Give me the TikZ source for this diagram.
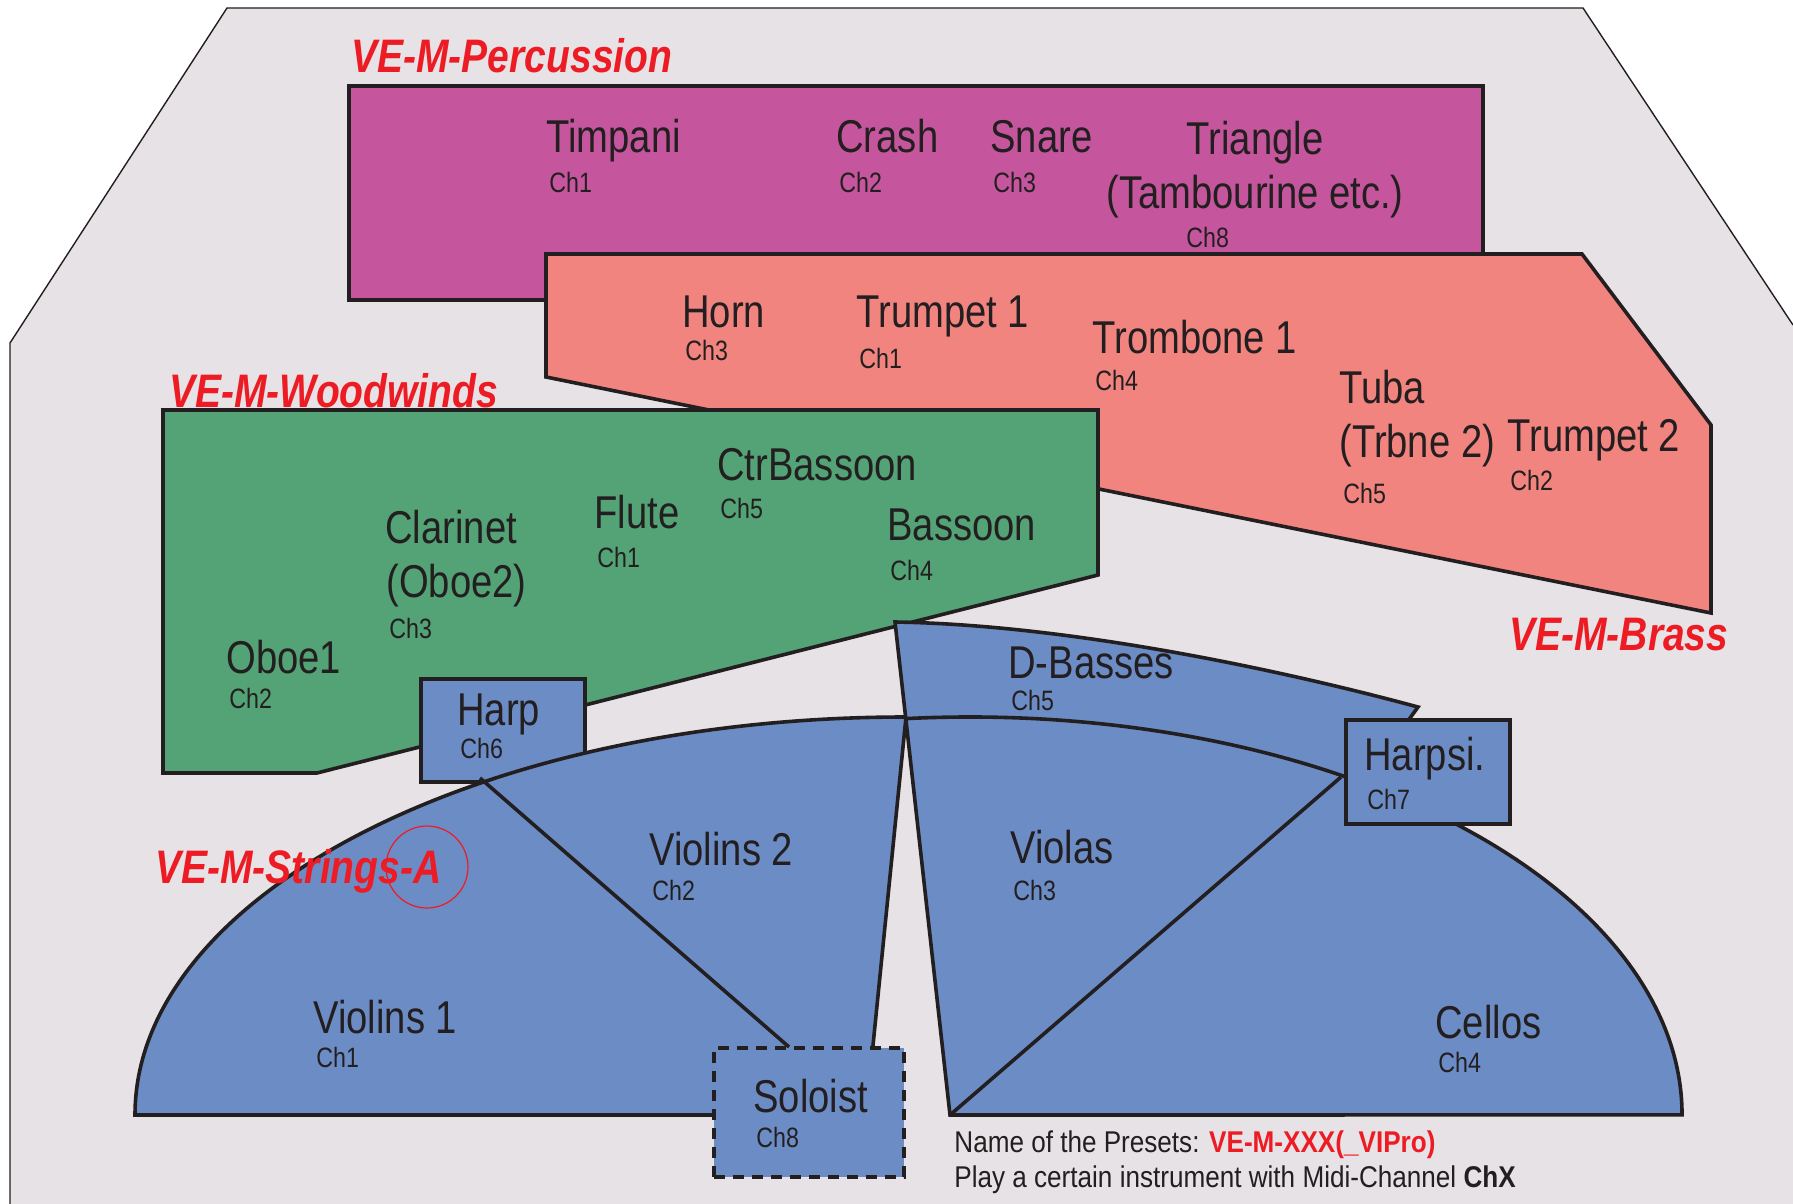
\documentclass[tikz,border=0pt]{standalone}
\usepackage{fontspec}
\setmainfont{Liberation Sans}[FakeStretch=0.83]
\newfontfamily\notefont{Liberation Sans}[FakeStretch=0.87]
\usepackage{tikz}

\definecolor{percfill}{RGB}{197,86,158}
\definecolor{brassfill}{RGB}{242,132,128}
\definecolor{woodfill}{RGB}{83,163,118}
\definecolor{strfill}{RGB}{108,140,198}
\definecolor{stagebg}{RGB}{230,226,229}
\definecolor{vered}{RGB}{237,28,36}
\definecolor{inkdark}{RGB}{35,31,32}

\tikzset{
  section/.style={draw=inkdark, line width=1.8pt},
  seatbox/.style={section, fill=strfill, inner sep=0pt, anchor=north west},
  lbl/.style={anchor=base west, inner sep=0pt, text=inkdark, font=\fontsize{23}{27}\selectfont},
  chlbl/.style={anchor=base west, inner sep=0pt, text=inkdark, font=\fontsize{14}{17}\selectfont},
  grouplbl/.style={anchor=base west, inner sep=0pt, text=vered, font=\fontsize{23.5}{28}\selectfont\bfseries\itshape},
  note/.style={anchor=base west, inner sep=0pt, text=inkdark, font=\notefont\fontsize{15}{18}\selectfont}
}
\newcommand{\instr}[6]{\node[lbl] (#1) at (#2,#3) {#4}; \node[chlbl] (#1ch) at ([shift={(3,#6)}]#1.base west) {#5};}

\begin{document}
\begin{tikzpicture}[x=0.5pt, y=-0.5pt]
\useasboundingbox (0,0) rectangle (1793,1204);
\fill[white] (0,0) rectangle (1793,1204);
\fill[stagebg] (10,1204) -- (10,343) -- (227,8) -- (1583,8) -- (1793,325) -- (1793,1204) -- cycle;
\draw[inkdark, line width=0.7pt] (10,1204) -- (10,343) -- (227,8) -- (1583,8) -- (1793,325);

\draw[section, fill=percfill] (349,86) rectangle (1483,300);
\draw[section, fill=brassfill] (546,254) -- (1582,254) -- (1711,425) -- (1711,613) -- (546,377) -- cycle;
\draw[section, fill=woodfill] (163,410) -- (1098,410) -- (1098,575) -- (317,773) -- (163,773) -- cycle;
\node[seatbox, minimum width=82pt, minimum height=51.5pt] (harp) at (419,677) {};

\coordinate (apex) at (906,718.6);
\coordinate (v1top) at (480,778); \coordinate (v1bot) at (789,1047);
\coordinate (hsleft) at (1341,777); \coordinate (vcbot) at (950,1115);
\draw[section, fill=strfill] (135,1115) arc[start angle=180, end angle=270, x radius=771, y radius=398] -- (866,1115) -- cycle;
\draw[section, fill=strfill] (895,622) .. controls (1080,625) and (1300,675) .. (1418,707) -- (1410,718) -- (1427.7,810) arc[start angle=-50, end angle=0, x radius=712, y radius=398] -- (vcbot) -- cycle;
\draw[section] (apex) arc[start angle=-95.16, end angle=-58, x radius=712, y radius=398];
\draw[section] (hsleft) -- (vcbot);
\draw[section] (v1top) -- (v1bot);
\node[seatbox, minimum width=82pt, minimum height=52pt] (harpsi) at (1344,718) {};
\node[seatbox, dash pattern=on 5.5pt off 4pt, minimum width=95pt, minimum height=64.5pt] (soloist) at (712,1046) {};

\instr{timpani}{546}{153}{Timpani}{Ch1}{39}
\instr{crash}{836}{153}{Crash}{Ch2}{39}
\instr{snare}{990}{153}{Snare}{Ch3}{39}
\node[lbl, anchor=base] (triangle) at (1255,155) {Triangle};
\node[lbl, anchor=base] (tambourine) at (1255,208) {(Tambourine etc.)};
\node[chlbl] (tambourinech) at (1186,247) {Ch8};

\instr{horn}{682}{327}{Horn}{Ch3}{33}
\instr{trumpeti}{856}{327}{Trumpet 1}{Ch1}{41}
\instr{trombone}{1092}{353}{Trombone 1}{Ch4}{37}
\node[lbl] (tuba) at (1339,403) {Tuba};
\node[lbl] (trbne) at (1339,457) {(Trbne 2)};
\node[chlbl] (tubach) at (1343,503) {Ch5};
\instr{trumpetii}{1507}{451}{Trumpet 2}{Ch2}{39}

\instr{oboei}{226}{673}{Oboe1}{Ch2}{35}
\node[lbl] (clarinet) at (385,543) {Clarinet};
\node[lbl] (oboeii) at (386,597) {(Oboe2)};
\node[chlbl] (clarinetch) at (389,638) {Ch3};
\instr{flute}{594}{528}{Flute}{Ch1}{39}
\instr{ctrbassoon}{717}{480}{CtrBassoon}{Ch5}{38}
\instr{bassoon}{887}{540}{Bassoon}{Ch4}{40}
\instr{harplbl}{457}{725}{Harp}{Ch6}{33}

\instr{violinsi}{313}{1033}{Violins 1}{Ch1}{34}
\instr{violinsii}{649}{865}{Violins 2}{Ch2}{35}
\instr{violas}{1010}{863}{Violas}{Ch3}{37}
\instr{cellos}{1435}{1038}{Cellos}{Ch4}{34}
\instr{dbasses}{1008}{678}{D-Basses}{Ch5}{32}
\instr{harpsilbl}{1364}{770}{Harpsi.}{Ch7}{39}
\instr{soloistlbl}{753}{1112}{Soloist}{Ch8}{35}

\node[grouplbl] (percussion) at (351,73) {VE-M-Percussion};
\node[grouplbl] (woodwinds) at (169,407) {VE-M-Woodwinds};
\node[grouplbl] (brass) at (1509,650) {VE-M-Brass};
\node[grouplbl] (strings) at (155,883) {VE-M-Strings-A};
\draw[vered, line width=0.6pt] (427,867) circle[radius=41];

\node[note] (presets) at (954,1152) {Name of the Presets: \textcolor{vered}{\bfseries VE-M-XXX(\_VIPro)}};
\node[note] (midich) at (954,1187) {Play a certain instrument with Midi-Channel \textbf{ChX}};
\end{tikzpicture}
\end{document}
